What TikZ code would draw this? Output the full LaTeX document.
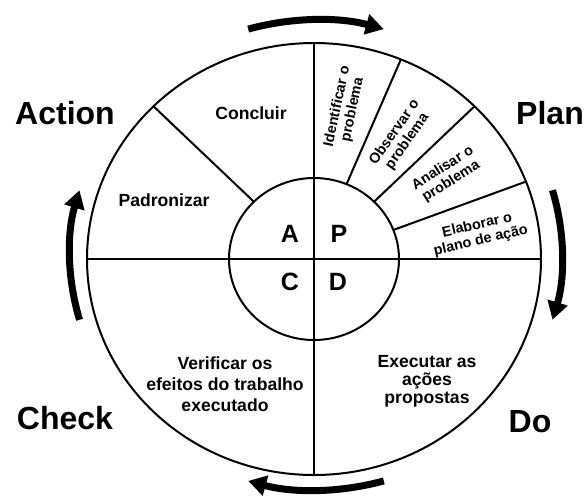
\documentclass[tikz,border=0pt]{standalone}
\usepackage{fontspec}
\setmainfont{Liberation Sans}
\usetikzlibrary{arrows.meta, positioning}

\begin{document}
\begin{tikzpicture}[
    x=0.5pt, y=0.5pt,
    font=\bfseries,
    fase/.style={font=\fontsize{16}{18}\selectfont\bfseries},
    letra/.style={font=\fontsize{12.5}{14}\selectfont\bfseries},
    etapa/.style={align=center, inner sep=1pt, font=\fontsize{8.8}{10.5}\selectfont\bfseries},
    subetapa/.style={align=center, inner sep=1pt, font=\fontsize{7.2}{7.8}\selectfont\bfseries},
    borda/.style={line width=1pt},
    ciclo/.style={-{Triangle[length=9pt, width=10pt]}, line width=3.5pt}
]
    \useasboundingbox (-314,-236) rectangle (273,259);

    % Circles
    \draw[borda] (0,0) ellipse [x radius=227, y radius=216];
    \draw[borda] (0,0) ellipse [x radius=85, y radius=81];

    % Divisions
    \draw[borda] (-227,0) -- (227,0);
    \draw[borda] (0,-216) -- (0,216);
    \foreach \a in {21,45,67.5,135}
        \draw[borda] ({85*cos(\a)},{81*sin(\a)}) -- ({227*cos(\a)},{216*sin(\a)});

    % Cycle arrows
    \begin{scope}[shift={(2,4)}]
        \draw[ciclo] (106:246 and 235) arc[start angle=106, end angle=74, x radius=246, y radius=235];
        \draw[ciclo] (16:246 and 235) arc[start angle=16, end angle=-16, x radius=246, y radius=235];
        \draw[ciclo] (-74:246 and 235) arc[start angle=-74, end angle=-106, x radius=246, y radius=235];
        \draw[ciclo] (196:246 and 235) arc[start angle=196, end angle=164, x radius=246, y radius=235];
    \end{scope}

    % Phases
    \node[fase] (action) at (-249,146) {Action};
    \node[fase] (plan) at (236,146) {Plan};
    \node[fase] (check) at (-249,-159) {Check};
    \node[fase] (do) at (216,-163) {Do};

    % Letters
    \node[letra] (A) at (-24,25) {A};
    \node[letra] (P) at (25,25) {P};
    \node[letra] (C) at (-24,-23) {C};
    \node[letra] (D) at (24,-23) {D};

    % Steps
    \node[etapa] (concluir) at (-63,146) {Concluir};
    \node[etapa] (padronizar) at (-150,59) {Padronizar};
    \node[etapa] (verificar) at (-89,-125) {Verificar os\\efeitos do trabalho\\executado};
    \node[etapa, font=\fontsize{8.8}{9}\selectfont\bfseries] (executar) at (113,-122) {Executar as\\ações\\propostas};

    \node[subetapa, rotate=78] (identificar) at (31,151) {Identificar o\\problema};
    \node[subetapa, rotate=55] (observar) at (87,122) {Observar o\\problema};
    \node[subetapa, rotate=32] (analisar) at (133,84) {Analisar o\\problema};
    \node[subetapa, rotate=13] (elaborar) at (165,26) {Elaborar o\\plano de ação};
\end{tikzpicture}
\end{document}
